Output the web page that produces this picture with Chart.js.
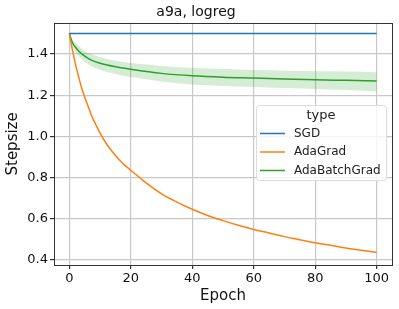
<!DOCTYPE html>
<html>
<head>
<meta charset="utf-8">
<script src="https://cdn.jsdelivr.net/npm/chart.js@4/dist/chart.umd.min.js"></script>
<style>
	html, body { margin: 0; padding: 0; background: #fff; }
	#box { width: 399px; height: 309px; }
</style>
</head>
<body>
<div id="box"><canvas id="stepChart"></canvas></div>
<script>
"use strict"

const xTicks = [0, 20, 40, 60, 80, 100]
const yTicks = [0.4, 0.6, 0.8, 1.0, 1.2, 1.4]

const sgdEpochs = [0, 100]
const sgdValues = [1.5, 1.5]

const adagradEpochs = [0, 1, 2, 3, 4, 5, 6, 7, 8, 9, 10, 12, 14, 16, 18, 20, 25, 30, 35, 40, 45, 50, 55, 60, 65, 70, 75, 80, 85, 90, 95, 100]
const adagradValues = [1.5, 1.42, 1.35, 1.29, 1.235, 1.19, 1.15, 1.11, 1.075, 1.045, 1.015, 0.965, 0.925, 0.89, 0.86, 0.835, 0.773, 0.72, 0.68, 0.645, 0.615, 0.59, 0.567, 0.547, 0.53, 0.512, 0.497, 0.482, 0.47, 0.457, 0.446, 0.435]

const batchEpochs = [0, 1, 2, 3, 5, 7, 10, 15, 20, 30, 40, 50, 60, 70, 80, 90, 100]
const batchValues = [1.5, 1.455, 1.433, 1.415, 1.39, 1.372, 1.355, 1.338, 1.326, 1.306, 1.294, 1.287, 1.283, 1.279, 1.275, 1.272, 1.269]
const batchUpper = [1.5, 1.47, 1.455, 1.44, 1.415, 1.4, 1.385, 1.368, 1.356, 1.342, 1.332, 1.327, 1.322, 1.319, 1.316, 1.315, 1.312]
const batchLower = [1.5, 1.44, 1.41, 1.39, 1.362, 1.343, 1.322, 1.303, 1.288, 1.267, 1.252, 1.245, 1.24, 1.235, 1.23, 1.225, 1.218]

const seriesNames = ["SGD", "AdaGrad", "AdaBatchGrad"]
const seriesColors = ["#1f77b4", "#ff7f0e", "#2ca02c"]

function pts(xs, ys) {
	return xs.map((x, i) => ({ x: x, y: ys[i] }))
}

const frame = {
	id: "frame",
	afterDatasetsDraw(chart) {
		let a = chart.chartArea
		let c = chart.ctx
		c.save()
		c.strokeStyle = "#333"
		c.lineWidth = 1
		c.strokeRect(Math.round(a.left) + 0.5, Math.round(a.top) + 0.5, Math.round(a.right - a.left), Math.round(a.bottom - a.top))
		c.restore()
	},
	afterDraw(chart) {
		let c = chart.ctx
		c.save()
		c.fillStyle = "rgba(255,255,255,0.8)"
		c.strokeStyle = "#dcdcdc"
		c.lineWidth = 1
		c.beginPath()
		c.roundRect(256.5, 105.5, 130, 75, 3)
		c.fill()
		c.stroke()
		c.fillStyle = "#222"
		c.textAlign = "center"
		c.textBaseline = "middle"
		c.font = "13px 'DejaVu Sans'"
		c.fillText("type", 321, 116)
		c.textAlign = "left"
		c.font = "12px 'DejaVu Sans'"
		seriesNames.forEach((name, i) => {
			let y = 133.5 + i * 18.5
			c.strokeStyle = seriesColors[i]
			c.lineWidth = 1.5
			c.beginPath()
			c.moveTo(260, y)
			c.lineTo(285, y)
			c.stroke()
			c.fillStyle = "#222"
			c.fillText(name, 294, y)
		})
		c.restore()
	},
}

let ctx = document.getElementById("stepChart").getContext("2d")
let chart = new Chart(ctx, {
	type: "line",
	data: {
		datasets: [
			{
				label: "band-upper",
				data: pts(batchEpochs, batchUpper),
				borderWidth: 0,
				pointRadius: 0,
				fill: false,
				cubicInterpolationMode: "monotone",
			},
			{
				label: "band-lower",
				data: pts(batchEpochs, batchLower),
				borderWidth: 0,
				pointRadius: 0,
				fill: "-1",
				backgroundColor: "rgba(44, 160, 44, 0.2)",
				cubicInterpolationMode: "monotone",
			},
			{
				label: seriesNames[0],
				data: pts(sgdEpochs, sgdValues),
				borderColor: seriesColors[0],
				borderWidth: 1.5,
				pointRadius: 0,
			},
			{
				label: seriesNames[1],
				data: pts(adagradEpochs, adagradValues),
				borderColor: seriesColors[1],
				borderWidth: 1.5,
				pointRadius: 0,
				cubicInterpolationMode: "monotone",
			},
			{
				label: seriesNames[2],
				data: pts(batchEpochs, batchValues),
				borderColor: seriesColors[2],
				borderWidth: 1.5,
				pointRadius: 0,
				cubicInterpolationMode: "monotone",
			},
		],
	},
	options: {
		responsive: true,
		maintainAspectRatio: false,
		animation: false,
		layout: { padding: { left: 0, right: 7, top: 0, bottom: 0 } },
		plugins: {
			legend: { display: false },
			tooltip: { enabled: false },
			title: {
				display: true,
				text: "a9a, logreg",
				color: "#111",
				font: { family: "DejaVu Sans", size: 14, weight: "normal" },
				padding: { top: 4, bottom: 2 },
			},
		},
		scales: {
			x: {
				type: "linear",
				min: -5,
				max: 105,
				afterBuildTicks: (s) => { s.ticks = xTicks.map((v) => ({ value: v })) },
				afterFit: (s) => { s.height = 44 },
				ticks: { color: "#111", font: { family: "DejaVu Sans", size: 13 }, padding: 2 },
				grid: { color: "#c8c8c8", lineWidth: 1.2, tickLength: 4, tickColor: "#333" },
				border: { display: false },
				title: { display: true, text: "Epoch", color: "#111", font: { family: "DejaVu Sans", size: 15 }, padding: { top: 0 } },
			},
			y: {
				min: 0.374,
				max: 1.552,
				afterBuildTicks: (s) => { s.ticks = yTicks.map((v) => ({ value: v })) },
				afterFit: (s) => { s.width = 54 },
				ticks: { color: "#111", font: { family: "DejaVu Sans", size: 13 }, padding: 2, callback: (v) => v.toFixed(1) },
				grid: { color: "#c8c8c8", lineWidth: 1.2, tickLength: 4, tickColor: "#333" },
				border: { display: false },
				title: { display: true, text: "Stepsize", color: "#111", font: { family: "DejaVu Sans", size: 15 }, padding: { bottom: 0 } },
			},
		},
	},
	plugins: [frame],
})
</script>
</body>
</html>
